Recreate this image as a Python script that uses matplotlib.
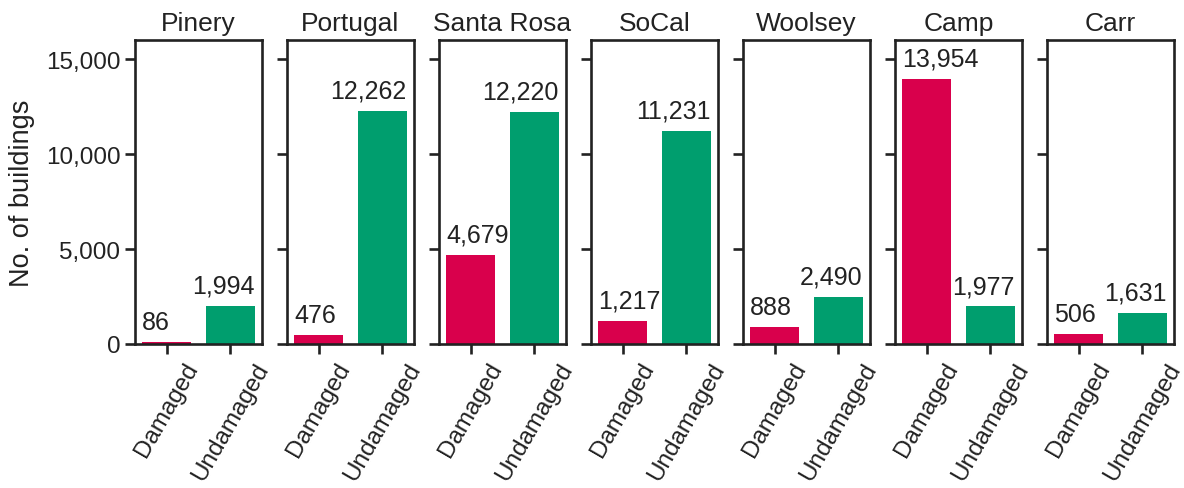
import matplotlib.pyplot as plt
from matplotlib.ticker import FuncFormatter

fires = ['Pinery', 'Portugal', 'Santa Rosa', 'SoCal', 'Woolsey', 'Camp', 'Carr']
damaged = [86, 476, 4679, 1217, 888, 13954, 506]
undamaged = [1994, 12262, 12220, 11231, 2490, 1977, 1631]
classes = ['Damaged', 'Undamaged']
colors = ['#d9004c', '#009e6e']

plt.rcParams['font.family'] = ['Liberation Sans', 'DejaVu Sans']
plt.rcParams['axes.linewidth'] = 1.9

fig, axes = plt.subplots(1, 7, sharey=True, figsize=(11.84, 4.89), dpi=100)
fig.subplots_adjust(left=0.114, right=0.9916, top=0.916, bottom=0.2945, wspace=0.197)

for i, ax in enumerate(axes):
    vals = [damaged[i], undamaged[i]]
    bars = ax.bar([0, 1], vals, width=0.77, color=colors)
    # labels: damaged anchored on left edge, undamaged on right edge
    ax.annotate(f'{vals[0]:,}', (bars[0].get_x(), vals[0]), xytext=(0, 6),
                textcoords='offset points', ha='left', va='bottom', fontsize=18, color='#222222')
    ax.annotate(f'{vals[1]:,}', (bars[1].get_x() + bars[1].get_width(), vals[1]), xytext=(0, 6),
                textcoords='offset points', ha='right', va='bottom', fontsize=18, color='#222222')
    ax.set_xlim(-0.5, 1.5)
    ax.set_ylim(0, 16000)
    ax.set_xticks([0, 1])
    ax.set_xticklabels(classes, rotation=60)
    ax.set_title(fires[i], fontsize=19, pad=7, color='#222222')
    ax.tick_params(length=7, width=1.9, colors='#222222', labelsize=17.5)
    ax.set_yticks([0, 5000, 10000, 15000])
    for s in ax.spines.values():
        s.set_color('#222222')

axes[0].yaxis.set_major_formatter(FuncFormatter(lambda v, p: f'{int(v):,}'))
axes[0].set_ylabel('No. of buildings', fontsize=19.5, color='#222222', labelpad=8)

fig.savefig('out.png', dpi=100)
